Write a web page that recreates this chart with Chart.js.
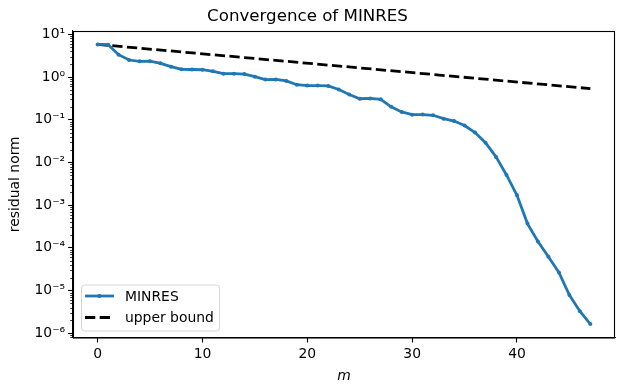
<!DOCTYPE html>
<html>
<head>
<meta charset="utf-8">
<script src="https://cdn.jsdelivr.net/npm/chart.js@4/dist/chart.umd.min.js"></script>
<style>
  html, body { margin: 0; padding: 0; background: #fff; }
  #wrap { width: 625px; height: 391px; }
</style>
</head>
<body>
<div id="wrap"><canvas id="chart"></canvas></div>
<script>
// iteration index m
const iterations = [0, 1, 2, 3, 4, 5, 6, 7, 8, 9, 10, 11, 12, 13, 14, 15, 16, 17, 18, 19, 20, 21, 22, 23,
    24, 25, 26, 27, 28, 29, 30, 31, 32, 33, 34, 35, 36, 37, 38, 39, 40, 41, 42, 43, 44, 45, 46, 47];

// residual norm per iteration
const minresResidual = [5.8, 5.7, 3.34, 2.5, 2.33, 2.35, 2.09, 1.75, 1.51, 1.5, 1.48, 1.36, 1.2, 1.2, 1.17, 1.02,
    0.87, 0.88, 0.81, 0.66, 0.63, 0.63, 0.62, 0.51, 0.39, 0.31, 0.316, 0.30, 0.2, 0.152, 0.131, 0.132,
    0.127, 0.106, 0.093, 0.073, 0.05, 0.029, 0.0135, 0.0051, 0.0017, 3.7e-4, 1.41e-4, 6.2e-5, 2.66e-5,
    7.9e-6, 3.3e-6, 1.65e-6];

// upper bound is a straight line in log scale
const boundIterations = [0, 47];
const boundValues = [5.8, 0.535];

const xTicks = [0, 10, 20, 30, 40];
const yExponents = [-6, -5, -4, -3, -2, -1, 0, 1];

const supDigits = { '-': '\u207B', '0': '\u2070', '1': '\u00B9', '2': '\u00B2', '3': '\u00B3',
    '4': '\u2074', '5': '\u2075', '6': '\u2076', '7': '\u2077', '8': '\u2078', '9': '\u2079' };

function powerLabel(exp) {
    return '10' + String(exp).split('').map(c => supDigits[c]).join('');
}

const FONT = 13.9;
const LW = 2.78;
const DASH = [10.3, 4.4];

Chart.defaults.font.family = "'DejaVu Sans', sans-serif";
Chart.defaults.font.size = FONT;
Chart.defaults.color = '#000';

// spines, minor log ticks and the in-plot legend
const decorations = {
    id: 'decorations',
    afterDraw(chart) {
        const ctx = chart.ctx;
        const area = chart.chartArea;
        const y = chart.scales.y;

        ctx.save();
        ctx.strokeStyle = '#000';
        ctx.lineWidth = 1.1;
        ctx.strokeRect(area.left + 0.5, area.top + 0.5, area.right - area.left - 1, area.bottom - area.top);

        // minor ticks
        ctx.lineWidth = 0.8;
        ctx.beginPath();
        for (let k = -7; k <= 1; k++) {
            for (let m = 2; m <= 9; m++) {
                const v = m * Math.pow(10, k);
                if (v < y.min || v > y.max) continue;
                const py = Math.round(y.getPixelForValue(v)) + 0.5;
                ctx.moveTo(area.left, py);
                ctx.lineTo(area.left - 2.8, py);
            }
        }
        ctx.stroke();

        // legend box
        const bx = area.left + 8, by = area.bottom - 53, bw = 138, bh = 46;
        ctx.beginPath();
        ctx.roundRect(bx + 0.5, by + 0.5, bw, bh, 3);
        ctx.fillStyle = 'rgba(255,255,255,0.8)';
        ctx.fill();
        ctx.strokeStyle = '#d6d6d6';
        ctx.lineWidth = 1;
        ctx.stroke();

        const rows = [
            { label: 'MINRES', color: '#1f77b4', dash: [], dot: true },
            { label: 'upper bound', color: '#000', dash: DASH, dot: false }
        ];
        rows.forEach((r, i) => {
            const ly = by + 11.5 + i * 21.5;
            ctx.beginPath();
            ctx.setLineDash(r.dash);
            ctx.strokeStyle = r.color;
            ctx.lineWidth = LW;
            ctx.moveTo(bx + 4, ly);
            ctx.lineTo(bx + 33, ly);
            ctx.stroke();
            ctx.setLineDash([]);
            if (r.dot) {
                ctx.beginPath();
                ctx.fillStyle = r.color;
                ctx.arc(bx + 18.5, ly, 2, 0, Math.PI * 2);
                ctx.fill();
            }
            ctx.fillStyle = '#000';
            ctx.font = FONT + "px 'DejaVu Sans', sans-serif";
            ctx.textBaseline = 'middle';
            ctx.textAlign = 'left';
            ctx.fillText(r.label, bx + 44, ly + 1);
        });
        ctx.restore();
    }
};

new Chart(document.getElementById('chart'), {
    type: 'line',
    data: {
        datasets: [
            {
                label: 'MINRES',
                data: iterations.map((m, i) => ({ x: m, y: minresResidual[i] })),
                borderColor: '#1f77b4',
                backgroundColor: '#1f77b4',
                borderWidth: LW,
                pointRadius: 2,
                pointBorderWidth: 0,
                tension: 0,
                fill: false
            },
            {
                label: 'upper bound',
                data: boundIterations.map((m, i) => ({ x: m, y: boundValues[i] })),
                borderColor: '#000',
                borderWidth: LW,
                borderDash: DASH,
                pointRadius: 0,
                tension: 0,
                fill: false
            }
        ]
    },
    options: {
        responsive: true,
        maintainAspectRatio: false,
        animation: false,
        layout: { padding: { left: 0, right: 10, top: 0, bottom: 0 } },
        plugins: {
            legend: { display: false },
            tooltip: { enabled: false },
            title: {
                display: true,
                text: 'Convergence of MINRES',
                font: { size: 16.67, weight: 'normal' },
                color: '#000',
                padding: { top: 6.5, bottom: 4.5 }
            }
        },
        scales: {
            x: {
                type: 'linear',
                min: -2.35,
                max: 49.35,
                afterBuildTicks: (scale) => { scale.ticks = xTicks.map(v => ({ value: v })); },
                afterFit: (scale) => { scale.height = 53.5; },
                grid: { drawOnChartArea: false, drawTicks: true, tickLength: 4.9, tickColor: '#000', tickWidth: 1.1 },
                border: { display: true, color: '#000', width: 1.1 },
                ticks: { padding: 3.5, maxRotation: 0, color: '#000' },
                title: {
                    display: true,
                    text: 'm',
                    font: { style: 'italic', size: FONT },
                    color: '#000',
                    padding: { top: 0, bottom: 6.7 }
                }
            },
            y: {
                type: 'logarithmic',
                min: Math.pow(10, -6.098),
                max: Math.pow(10, 1.077),
                afterBuildTicks: (scale) => { scale.ticks = yExponents.map(e => ({ value: Math.pow(10, e) })); },
                afterFit: (scale) => { scale.width = 73; },
                grid: { drawOnChartArea: false, drawTicks: true, tickLength: 4.9, tickColor: '#000', tickWidth: 1.1 },
                border: { display: true, color: '#000', width: 1.1 },
                ticks: {
                    padding: 3,
                    color: '#000',
                    callback: (v) => powerLabel(Math.round(Math.log10(v)))
                },
                title: {
                    display: true,
                    text: 'residual norm',
                    font: { size: FONT },
                    color: '#000',
                    padding: { top: 6.7, bottom: 0 }
                }
            }
        }
    },
    plugins: [decorations]
});
</script>
</body>
</html>
